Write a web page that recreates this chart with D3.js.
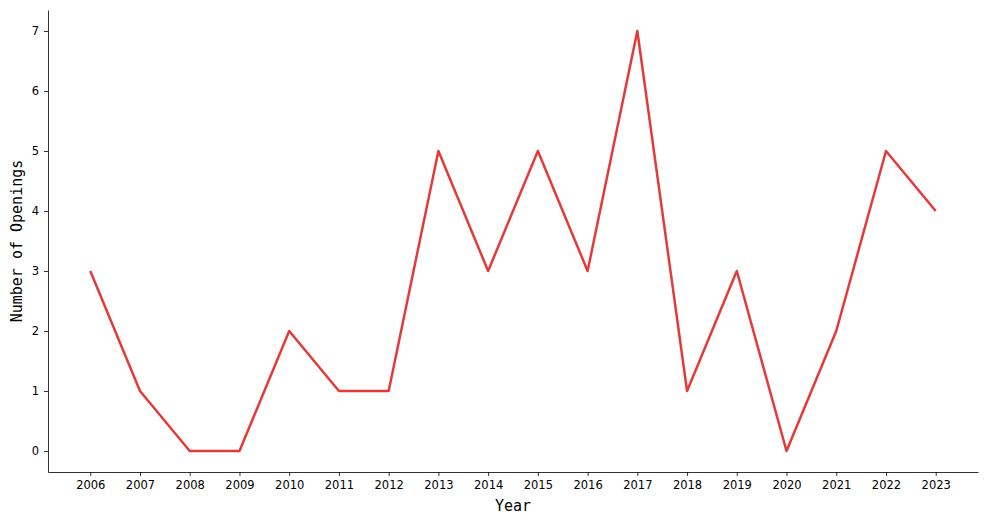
<!DOCTYPE html>
<html>
<head>
<meta charset="utf-8">
<script src="https://cdn.jsdelivr.net/npm/d3@7"></script>
<style>
  body { margin: 0; background: #fff; }
  svg { display: block; }
</style>
</head>
<body>
<script>
// openings per year
const years = [2006, 2007, 2008, 2009, 2010, 2011, 2012, 2013, 2014, 2015, 2016, 2017, 2018, 2019, 2020, 2021, 2022, 2023];
const openings = [3, 1, 0, 0, 2, 1, 1, 5, 3, 5, 3, 7, 1, 3, 0, 2, 5, 4];
const yTicks = [0, 1, 2, 3, 4, 5, 6, 7];

const width = 988,
  height = 525;
const margin = { top: 10, right: 10, bottom: 53, left: 48 };

const svg = d3
  .select("body")
  .append("svg")
  .attr("width", width)
  .attr("height", height);

// matplotlib style 5% padding on both axes
const xPad = (years[years.length - 1] - years[0]) * 0.05;
const x = d3
  .scaleLinear()
  .domain([years[0] - xPad, years[years.length - 1] + xPad])
  .range([margin.left, width - margin.right]);

const y = d3
  .scaleLinear()
  .domain([-0.35, 7.35])
  .range([height - margin.bottom, margin.top]);

const tickFont = "DejaVu Sans, sans-serif";

const xAxis = svg
  .append("g")
  .attr("transform", `translate(0,${height - margin.bottom})`)
  .call(d3.axisBottom(x).tickValues(years).tickFormat(d3.format("d")).tickSize(4).tickPadding(5).tickSizeOuter(0));

const yAxis = svg
  .append("g")
  .attr("transform", `translate(${margin.left},0)`)
  .call(d3.axisLeft(y).tickValues(yTicks).tickSize(4).tickPadding(5).tickSizeOuter(0));

[xAxis, yAxis].forEach((g) => {
  g.selectAll("text").style("font-family", tickFont).style("font-size", "11.5px").attr("fill", "#000");
  g.selectAll("line").attr("stroke", "#000").attr("stroke-width", 0.8);
  g.select(".domain").attr("stroke", "#333").attr("stroke-width", 1);
});

// line
const line = d3
  .line()
  .x((d, i) => x(years[i]))
  .y((d) => y(d));

svg
  .append("path")
  .datum(openings)
  .attr("fill", "none")
  .attr("stroke", "#e53a3a")
  .attr("stroke-width", 2.5)
  .attr("stroke-linejoin", "round")
  .attr("d", line);

// axis labels
svg
  .append("text")
  .attr("x", (margin.left + width - margin.right) / 2)
  .attr("y", 511)
  .attr("text-anchor", "middle")
  .style("font-family", "DejaVu Sans Mono, monospace")
  .style("font-size", "15px")
  .text("Year");

svg
  .append("text")
  .attr("transform", `translate(22,${(margin.top + height - margin.bottom) / 2}) rotate(-90)`)
  .attr("text-anchor", "middle")
  .style("font-family", "DejaVu Sans Mono, monospace")
  .style("font-size", "15px")
  .text("Number of Openings");
</script>
</body>
</html>
